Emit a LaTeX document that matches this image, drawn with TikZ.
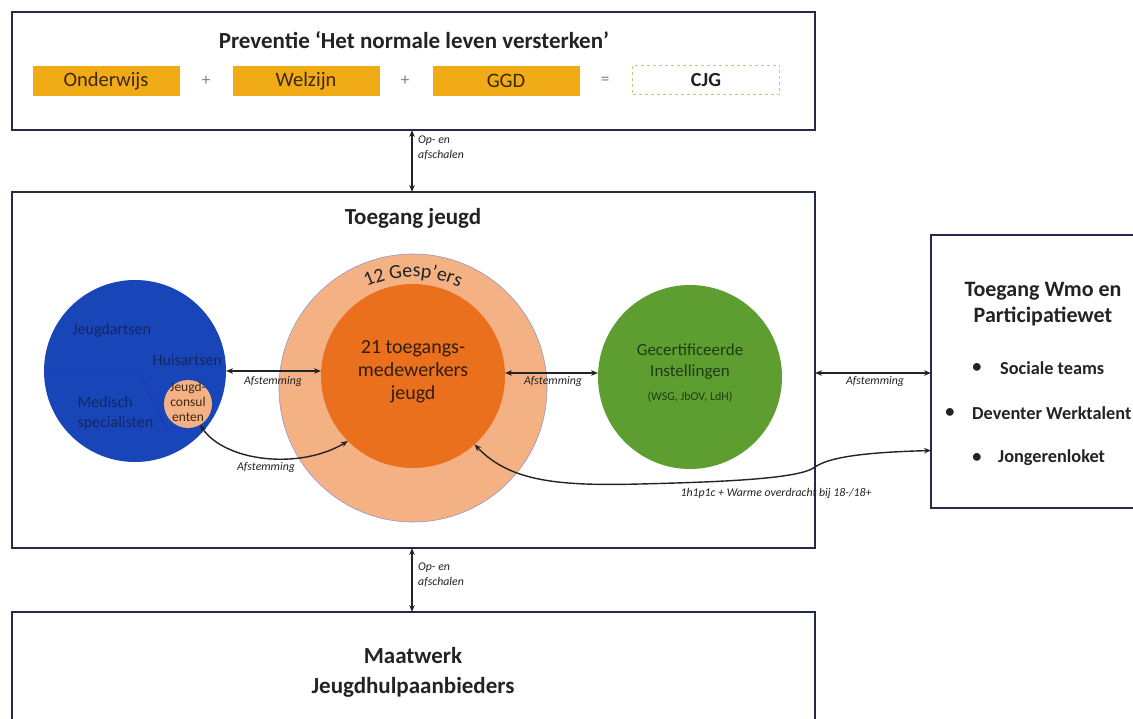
\documentclass[tikz,border=0pt]{standalone}
\usepackage{fontspec}
\setmainfont{Carlito}
\usetikzlibrary{arrows.meta,decorations.text,calc}
\definecolor{navy}{RGB}{35,45,75}
\definecolor{boxorange}{RGB}{241,171,22}
\definecolor{peach}{RGB}{244,177,131}
\definecolor{orangein}{RGB}{234,112,30}
\definecolor{bluec}{RGB}{24,70,185}
\definecolor{greenc}{RGB}{94,158,48}
\definecolor{txt}{RGB}{35,35,35}
\definecolor{bluetxt}{RGB}{20,38,100}
\definecolor{greentxt}{RGB}{30,60,20}
\definecolor{dashc}{RGB}{200,200,120}
\begin{document}
\begin{tikzpicture}[x=1pt,y=1pt,
  panel/.style={draw=navy, line width=1.5pt, fill=white, inner sep=0pt, outer sep=0pt},
  obox/.style={fill=boxorange, inner sep=0pt, minimum width=147pt, minimum height=30pt,
     font=\fontsize{20.5}{20.5}\selectfont, text={rgb,255:red,60;green,40;blue,10}},
  circ/.style={circle, inner sep=0pt, outer sep=0pt},
  lab/.style={font=\itshape\fontsize{11.8}{15}\selectfont, text=txt, inner sep=0pt},
  title/.style={font=\bfseries\fontsize{23}{30}\selectfont, text=txt, align=center, inner sep=0pt},
  bul/.style={font=\bfseries\fontsize{18.3}{18.3}\selectfont, text=txt, inner sep=0pt},
  arr/.style={line width=1.4pt, draw=txt, {Stealth[length=7pt,width=5.5pt]}-{Stealth[length=7pt,width=5.5pt]}},
  sym/.style={font=\fontsize{17}{17}\selectfont, text=gray, inner sep=0pt}
]
\useasboundingbox (0,0) rectangle (1133,-719);
\clip (0,0) rectangle (1133,-719);
\fill[white] (0,0) rectangle (1133,-719);

% panels
\node[panel, minimum width=803pt, minimum height=118pt] (prev) at (413.5,-71) {};
\node[panel, minimum width=803pt, minimum height=356pt] (jeugd) at (413.5,-370) {};
\node[panel, minimum width=803pt, minimum height=140pt] (maat) at (413.5,-682) {};
\node[panel, minimum width=240pt, minimum height=273pt] (wmo) at (1051,-371.5) {};

% prevention row
\node[title] (prevt) at (414,-40) {Preventie ‘Het normale leven versterken’};
\node[obox] (ond) at (106,-81) {Onderwijs};
\node[sym] (p1) at (206,-81) {+};
\node[obox] (wel) at (306,-81) {Welzijn};
\node[sym] (p2) at (405,-81) {+};
\node[obox] (ggd) at (506,-81) {GGD};
\node[sym] (eq) at (605,-81) {=};
\node[draw=dashc, dashed, line width=0.9pt, inner sep=0pt, minimum width=147pt, minimum height=29pt,
      font=\bfseries\fontsize{20}{20}\selectfont, text=txt] (cjg) at (706,-80) {CJG};

% arrows up/down
\draw[arr] (prev.south -| 412,0) -- (jeugd.north -| 412,0);
\node[lab, align=left, anchor=north west] (op1) at (418,-136) {Op- en\\afschalen};
\draw[arr] (jeugd.south -| 412,0) -- (maat.north -| 412,0);
\node[lab, align=left, anchor=north west] (op2) at (418,-563) {Op- en\\afschalen};

% titles
\node[title] (tj) at (413,-218) {Toegang jeugd};
\node[title] (mt) at (413,-672) {Maatwerk\\Jeugdhulpaanbieders};
\node[title, font=\bfseries\fontsize{22}{26}\selectfont] (wt) at (1043,-304) {Toegang Wmo en\\Participatiewet};
\node[bul, anchor=west] (b1) at (1000,-368) {Sociale teams};
\node[bul] (d1) at (977,-368) {•};
\node[bul, anchor=west] (b2) at (972,-413) {Deventer Werktalent};
\node[bul] (d2) at (950,-413) {•};
\node[bul, anchor=west] (b3) at (998,-458) {Jongerenloket};
\node[bul] (d3) at (977,-458) {•};

% circles
\node[circ, fill=peach, draw={rgb,255:red,150;green,150;blue,200}, line width=0.6pt, minimum size=268pt] (outer) at (413,-388) {};
\node[circ, fill=orangein, minimum size=184pt] (inner) at (413,-376) {};
\node[font=\fontsize{20}{23}\selectfont, text={rgb,255:red,50;green,30;blue,15}, align=center] (innt) at (413,-372) {21 toegangs-\\medewerkers\\jeugd};
\path[decorate, decoration={text along path, text align=center,
   text={|\fontsize{20}{20}\selectfont\color{txt}|12 Gesp’ers}}]
   ($(outer.center)+(150:111)$) arc[start angle=150, end angle=30, radius=111];

\node[circ, fill=bluec, minimum size=182pt] (blue) at (135,-371) {};
\draw[bluec!85!black, line width=0.5pt] (46,-373) -- (140,-373) -- (168,-432);
\node[font=\fontsize{16}{16}\selectfont, text=bluetxt, anchor=west] (ja) at (69,-330) {Jeugdartsen};
\node[font=\fontsize{16}{16}\selectfont, text=bluetxt, anchor=west] (ha) at (149,-360) {Huisartsen};
\node[font=\fontsize{16}{20}\selectfont, text=bluetxt, align=left, anchor=west] (ms) at (74,-413) {Medisch\\specialisten};
\node[circ, fill=peach, minimum size=48pt] (jc) at (188,-404) {};
\node[font=\fontsize{13.5}{15}\selectfont, text={rgb,255:red,60;green,40;blue,20}, align=center] (jct) at (188,-402) {Jeugd-\\consul\\enten};

\node[circ, fill=greenc, minimum size=184pt] (green) at (690,-377) {};
\node[font=\fontsize{17}{21}\selectfont, text=greentxt, align=center] (gt) at (690,-362) {Gecertificeerde\\Instellingen};
\node[font=\fontsize{12}{12}\selectfont, text=greentxt] (gs) at (690,-397) {(WSG, JbOV, LdH)};

% connectors
\draw[arr] (blue.east) -- (blue.east -| inner.west);
\node[lab] at (273,-381) {Afstemming};
\draw[arr] (inner.east |- 0,-373) -- (green.west |- 0,-373);
\node[lab] at (553,-381) {Afstemming};
\draw[arr] (wmo.west |- 0,-373) -- (jeugd.east |- 0,-373);
\node[lab] at (875,-381) {Afstemming};

\draw[arr] (jc.-60) .. controls (225,-462) and (300,-470) .. (inner.-135);
\node[lab] at (266,-467) {Afstemming};

\draw[arr] (inner.-48) .. controls (510,-482) and (560,-486) .. (640,-484)
   .. controls (720,-482) and (800,-479) .. (815,-467)
   .. controls (832,-455) and (880,-452) .. ([yshift=-79pt]wmo.west);
\node[lab] at (776,-493) {1h1p1c + Warme overdracht bij 18-/18+};
\end{tikzpicture}
\end{document}
